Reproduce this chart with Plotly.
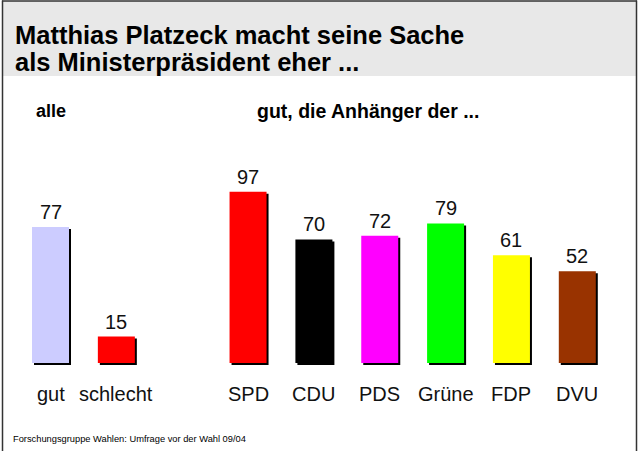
import plotly.graph_objects as go

# ---- data ----
categories = ["gut", "schlecht", "", "SPD", "CDU", "PDS", "Grüne", "FDP", "DVU"]
values = [77, 15, None, 97, 70, 72, 79, 61, 52]
colors = ["#ccccff", "#ff0000", "#ffffff", "#ff0000", "#000000", "#ff00ff", "#00ff00", "#ffff00", "#993300"]
title_lines = ["Matthias Platzeck macht seine Sache", "als Ministerpräsident eher ..."]
group_labels = ["alle", "gut, die Anhänger der ..."]
source = "Forschungsgruppe Wahlen: Umfrage vor der Wahl 09/04"

W, H = 639, 451
STEP = 65.85          # px per category slot
X0 = 50.5             # px center of first slot
BASE_PX = 363         # baseline pixel
PX_PER_UNIT = 1.766   # px per percentage point

xr = [-X0 / STEP, (W - X0) / STEP]
yr = [-(H - BASE_PX) / PX_PER_UNIT, BASE_PX / PX_PER_UNIT]

xs = list(range(len(categories)))
bw = 37 / STEP
sh_dx = 2 / STEP
sh_dy = 2 / PX_PER_UNIT

def px(x):
    return x / W

def py(y):
    return 1 - y / H

FONT = "Liberation Sans, Arial"

fig = go.Figure()

# shadow
fig.add_trace(go.Bar(
    x=[x + sh_dx for x, v in zip(xs, values) if v is not None],
    y=[v for v in values if v is not None],
    base=-sh_dy,
    width=bw,
    marker=dict(color="#000000", line=dict(width=0)),
    hoverinfo="skip",
))
# bars
fig.add_trace(go.Bar(
    x=[x for x, v in zip(xs, values) if v is not None],
    y=[v for v in values if v is not None],
    width=bw,
    marker=dict(color=[c for c, v in zip(colors, values) if v is not None], line=dict(width=0)),
))

annotations = []
for x, v, c in zip(xs, values, categories):
    if v is None:
        continue
    annotations.append(dict(x=x, y=v + 15 / PX_PER_UNIT, xref="x", yref="y", text=str(v),
                            showarrow=False, xanchor="center", yanchor="middle",
                            font=dict(family=FONT, size=20, color="#111111")))
    annotations.append(dict(x=x, y=-31 / PX_PER_UNIT, xref="x", yref="y", text=c,
                            showarrow=False, xanchor="center", yanchor="middle",
                            font=dict(family=FONT, size=20, color="#111111")))

# title lines
for t, ycap in zip(title_lines, [34.5, 62]):
    annotations.append(dict(x=px(13), y=py(ycap), xref="paper", yref="paper", text="<b>%s</b>" % t,
                            showarrow=False, xanchor="left", yanchor="middle",
                            font=dict(family=FONT, size=25.5, color="#000000")))

annotations.append(dict(x=px(34), y=py(111), xref="paper", yref="paper", text="<b>%s</b>" % group_labels[0],
                        showarrow=False, xanchor="left", yanchor="middle",
                        font=dict(family=FONT, size=18, color="#000000")))
annotations.append(dict(x=px(255), y=py(111), xref="paper", yref="paper", text="<b>%s</b>" % group_labels[1],
                        showarrow=False, xanchor="left", yanchor="middle",
                        font=dict(family=FONT, size=19.5, color="#000000")))
annotations.append(dict(x=px(11), y=py(438.5), xref="paper", yref="paper", text=source,
                        showarrow=False, xanchor="left", yanchor="middle",
                        font=dict(family=FONT, size=9.3, color="#000000")))

shapes = [
    dict(type="rect", xref="paper", yref="paper", x0=px(2), x1=px(636), y0=py(1), y1=py(76),
         fillcolor="#e8e8e8", line=dict(width=0), layer="below"),
    dict(type="line", xref="paper", yref="paper", x0=px(2.5), x1=px(2.5), y0=py(0.5), y1=py(451),
         line=dict(color="#333333", width=1.5)),
    dict(type="line", xref="paper", yref="paper", x0=px(636.5), x1=px(636.5), y0=py(0.5), y1=py(451),
         line=dict(color="#333333", width=1.5)),
    dict(type="line", xref="paper", yref="paper", x0=px(2), x1=px(637), y0=py(1), y1=py(1),
         line=dict(color="#333333", width=1.5)),
]

fig.update_layout(
    width=W, height=H,
    margin=dict(l=0, r=0, t=0, b=0),
    paper_bgcolor="#ffffff", plot_bgcolor="rgba(0,0,0,0)",
    showlegend=False, barmode="overlay",
    xaxis=dict(range=xr, visible=False, fixedrange=True),
    yaxis=dict(range=yr, visible=False, fixedrange=True),
    annotations=annotations, shapes=shapes,
)

fig.write_html("out.html", config={"displayModeBar": False},
               post_script="document.body.style.margin='0';document.body.style.overflow='hidden';")
